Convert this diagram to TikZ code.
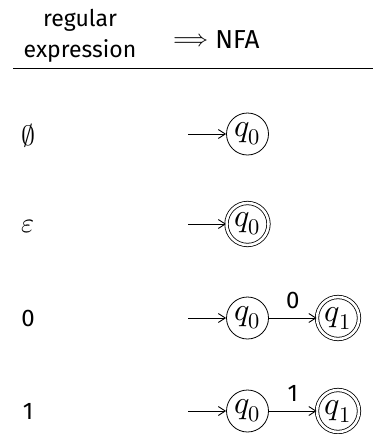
\documentclass[tikz,border=0pt]{standalone}
\usepackage{fontspec}
\setmainfont{Fira Sans}
\usepackage{unicode-math}
\setmathfont{Latin Modern Math}
\usetikzlibrary{arrows.meta}
\begin{document}
\begin{tikzpicture}[x=0.5pt,y=-0.5pt,
  txt/.style={font=\fontsize{11.5}{13}\selectfont, inner sep=0pt},
  lbl/.style={font=\fontsize{12}{14}\selectfont, inner sep=0pt},
  mlbl/.style={font=\fontsize{14}{16}\selectfont, inner sep=0pt},
  state/.style={circle, draw, line width=0.4pt, minimum size=21pt, inner sep=0pt, font=\fontsize{16}{18}\selectfont},
  accept/.style={state, double, double distance=1.3pt},
  edge/.style={-{Straight Barb[length=3.5pt,width=4.5pt]}, line width=0.45pt}]
\useasboundingbox (0,0) rectangle (373,434);
% header
\node[txt] (reg) at (80,20) {regular};
\node[txt] (exp) at (80,51) {expression};
\node[inner sep=0pt, font=\fontsize{12}{14}\selectfont] (arr) at (191,40) {$\Longrightarrow$};
\node[txt, anchor=west, font=\fontsize{13}{15}\selectfont] (nfa) at (215,40) {NFA};
\draw[line width=0.5pt] (13,68) -- (373,68);
% row labels
\node[mlbl] (r1) at (28,136) {$\emptyset$};
\node[mlbl] (r2) at (28,226) {$\varepsilon$};
\node[lbl] (r3) at (28,318) {0};
\node[lbl] (r4) at (28,411) {1};
% row 1
\coordinate (s1) at (188,134);
\node[state] (a0) at (247.5,134) {$q_0$};
\draw[edge] (s1) -- (a0);
% row 2
\coordinate (s2) at (188,224);
\node[accept] (b0) at (247.5,224) {$q_0$};
\draw[edge] (s2) -- (b0);
% row 3
\coordinate (s3) at (188,318);
\node[state] (c0) at (247.5,318) {$q_0$};
\node[accept] (c1) at (338,318) {$q_1$};
\draw[edge] (s3) -- (c0);
\draw[edge] (c0) -- node[lbl, above=4.5pt] {0} (c1);
% row 4
\coordinate (s4) at (188,411);
\node[state] (d0) at (247.5,411) {$q_0$};
\node[accept] (d1) at (338,411) {$q_1$};
\draw[edge] (s4) -- (d0);
\draw[edge] (d0) -- node[lbl, above=4.5pt] {1} (d1);
\end{tikzpicture}
\end{document}
